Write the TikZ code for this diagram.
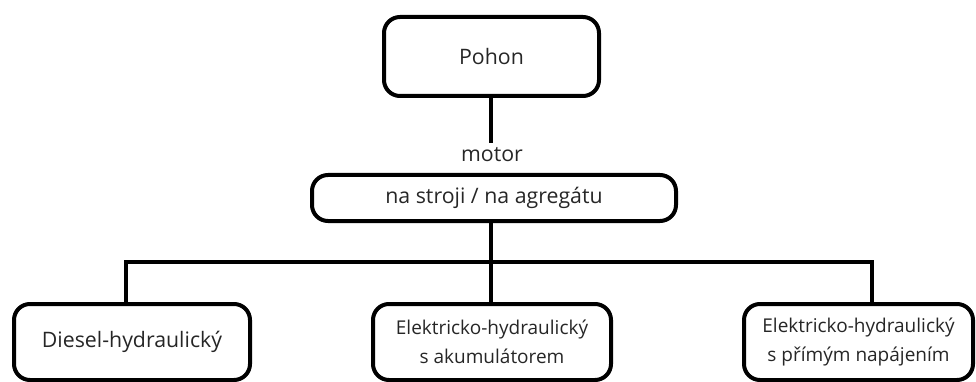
\documentclass[tikz,border=0pt]{standalone}
\usepackage{fontspec}
\setmainfont{Open Sans}
\begin{document}
\begin{tikzpicture}[x=1pt,y=-1pt,
  box/.style={draw=black, line width=4pt, rounded corners=16pt, align=center,
    inner sep=0pt, font=\fontsize{21.3}{27}\selectfont, text=black!85},
  twoline/.style={font=\fontsize{19}{29}\selectfont},
  conn/.style={draw=black, line width=4.5pt},
  lbl/.style={font=\fontsize{21.3}{22}\selectfont, text=black!85, inner sep=0pt}]
\useasboundingbox (0,0) rectangle (976,382);
\node[box, minimum width=215pt, minimum height=79pt] (pohon) at (491.5,56.5) {Pohon};
\node[lbl] (motor) at (492,155) {motor};
\coordinate (mtop) at (491,143);
\node[box, minimum width=364pt, minimum height=46pt] (mid) at (494,198) {na stroji / na agregátu};
\coordinate (bus) at (491,262);
\node[box, minimum width=236pt, minimum height=76pt] (bl) at (132,342) {Diesel-hydraulický};
\node[box, twoline, minimum width=238pt, minimum height=76pt] (bm) at (492,342) {Elektricko-hydraulický\\ s akumulátorem};
\node[box, twoline, minimum width=229pt, minimum height=76pt] (br) at (858.5,342) {Elektricko-hydraulický\\ s přímým napájením};
\draw[conn] (pohon.south -| mtop) -- (mtop);
\draw[conn] (mid.south -| bus) -- (bus);
\draw[conn] (bl.north -| 126,0) |- (bus) -| (br.north -| 872,0);
\draw[conn] (bm.north -| bus) -- (bus);
\end{tikzpicture}
\end{document}
